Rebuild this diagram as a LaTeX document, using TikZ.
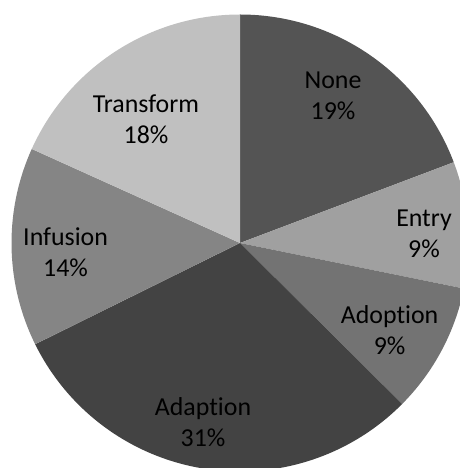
\documentclass[tikz,border=0pt]{standalone}
\usepackage{fontspec}
\setmainfont{Carlito}[Ligatures=NoCommon]
\usepackage{tikz}
\definecolor{mnone}{RGB}{84,84,84}
\definecolor{mentry}{RGB}{160,160,160}
\definecolor{madoption}{RGB}{115,115,115}
\definecolor{madaption}{RGB}{67,67,67}
\definecolor{minfusion}{RGB}{133,133,133}
\definecolor{mtransform}{RGB}{192,192,192}
\tikzset{share/.style = {align=center, inner sep=0pt, text=black,
                         font=\fontsize{18.4}{22}\selectfont}}

\begin{document}
\begin{tikzpicture}
    \clip (-6, -5.625) rectangle (5.5, 6.075);

    \foreach \a/\b/\c in {90/20.7/mnone, 20.7/-11.5/mentry, -11.5/-44.8/madoption,
                          -44.8/-153.7/madaption, -153.7/-204.3/minfusion, -204.3/-270/mtransform}
        \fill [\c] (0, 0) -- (\a:5.7125) arc [start angle=\a, end angle=\b, radius=5.7125] -- cycle;

    \node [share] (none) at (2.325, 3.675) {None\\19\%};
    \node [share] (entry) at (4.6, 0.225) {Entry\\9\%};
    \node [share] (adoption) at (3.74, -2.175) {Adoption\\9\%};
    \node [share] (adaption) at (-0.925, -4.475) {Adaption\\31\%};
    \node [share] (infusion) at (-4.36, -0.225) {Infusion\\14\%};
    \node [share] (transform) at (-2.35, 3.1) {Transform\\18\%};
  \end{tikzpicture}
\end{document}
